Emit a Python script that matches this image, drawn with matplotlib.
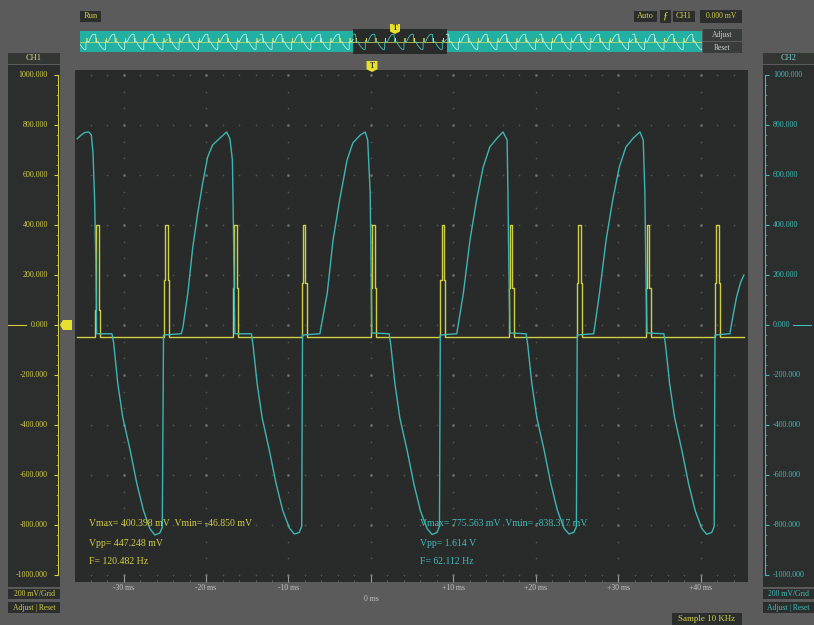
import numpy as np
import matplotlib.pyplot as plt
from matplotlib.patches import Rectangle, Polygon
from matplotlib.transforms import blended_transform_factory

# --- CH2 trace (time in ms, level in mV) ---
ch2_t = [
    -35.6, -35.2, -34.7, -34.2, -33.9, -33.7, -33.5, -33.35, -33.25,
    -31.4,
    -31.2, -30.7, -30.1, -29.2, -28.4, -27.6, -26.8, -26.2, -25.6, -25.3, -25.15,
    -23.0,
    -22.8, -22.2, -21.6, -21.0, -20.4, -19.8, -19.2, -18.3, -17.5, -17.1, -16.8, -16.7, -16.6, -16.5,
    -14.5,
    -14.3, -13.8, -13.2, -12.3, -11.5, -10.7, -9.9, -9.3, -8.7, -8.4, -8.3,
    -6.2,
    -5.3, -4.6, -3.8, -2.9, -2.2, -1.3, -0.7, -0.4, -0.1, 0.0, 0.1,
    2.2,
    2.4, 2.9, 3.5, 4.4, 5.2, 6.0, 6.8, 7.4, 8.0, 8.3, 8.4,
    10.4,
    11.2, 12.0, 12.8, 13.6, 14.4, 15.3, 16.0, 16.5, 16.6, 16.7, 16.85,
    18.8,
    19.0, 19.5, 20.1, 21.0, 21.8, 22.6, 23.4, 24.0, 24.6, 24.9, 25.0,
    27.0,
    27.7, 28.5, 29.3, 30.1, 30.9, 31.8, 32.6, 33.0, 33.2, 33.3, 33.45,
    35.5,
    35.7, 36.2, 36.8, 37.7, 38.5, 39.3, 40.1, 40.7, 41.3, 41.6, 41.7,
    43.5,
    43.9, 44.3, 44.8, 45.2,
]
ch2_mv = [
    745, 758, 770, 772, 760, 690, 500, 250, -35,
    -35,
    -70, -232, -368, -500, -632, -740, -815, -840, -832, -810, -40,
    -35,
    -10, 128, 312, 448, 568, 672, 720, 748, 772, 745, 660, 450, 200, -35,
    -35,
    -80, -235, -370, -505, -635, -742, -812, -836, -830, -805, -40,
    -35,
    128, 340, 500, 660, 728, 760, 772, 740, 528, 260, -32,
    -35,
    -80, -235, -372, -505, -636, -744, -814, -838, -830, -805, -40,
    -35,
    128, 340, 500, 632, 712, 748, 772, 740, 528, 260, -32,
    -35,
    -80, -235, -370, -503, -634, -742, -813, -836, -829, -806, -40,
    -35,
    128, 340, 500, 632, 712, 748, 772, 740, 528, 260, -32,
    -35,
    -80, -234, -370, -504, -635, -743, -814, -837, -830, -806, -40,
    -35,
    40, 110, 170, 200,
]

# --- CH1 pulses ---
ch1_start = [-33.45, -25.1, -16.7, -8.4, 0.0, 8.4, 16.7, 25.0, 33.3, 41.7]
ch1_peak = [400, 400, 400, 400, 400, 400, 400, 400, 400, 400]
ch1_step = [60, 180, 150, 170, 150, 180, 150, 170, 150, 170]
ch1_base = -47

volt_ticks = [-1000, -800, -600, -400, -200, 0, 200, 400, 600, 800, 1000]
time_ticks = [-30, -20, -10, 0, 10, 20, 30, 40]
time_labels = ['-30 ms', '-20 ms', '-10 ms', '0 ms', '+10 ms', '+20 ms', '+30 ms', '+40 ms']

ch1_stats = ['Vmax= 400.398 mV  Vmin= -46.850 mV', 'Vpp= 447.248 mV', 'F= 120.482 Hz']
ch2_stats = ['Vmax= 775.563 mV  Vmin= -838.317 mV', 'Vpp= 1.614 V', 'F= 62.112 Hz']

# --- colours / sizes ---
BG = '#5b5b5b'
PANEL = '#2c2e2d'
SCREEN = '#292b2a'
YEL = '#cfcf45'
CYAN = '#3fbdb8'
GRID = '#4f5451'
TXT = '#c4c4c4'
FONT = ['Liberation Serif', 'DejaVu Serif']
W, H = 814, 625
XL = (-35.88, 45.70)
YL = (-1028, 1020)

fig = plt.figure(figsize=(W / 100, H / 100), dpi=100)
fig.patch.set_facecolor(BG)


def rect(x0, y0, x1, y1):
    return [x0 / W, 1 - y1 / H, (x1 - x0) / W, (y1 - y0) / H]


def box(x0, y0, x1, y1, text='', color=YEL, fc=PANEL, size=6):
    fig.add_artist(Rectangle((x0 / W, 1 - y1 / H), (x1 - x0) / W, (y1 - y0) / H,
                             transform=fig.transFigure, facecolor=fc,
                             edgecolor='none', zorder=0))
    if text:
        fig.text((x0 + x1) / 2 / W, 1 - (y0 + y1) / 2 / H, text, color=color,
                 ha='center', va='center', fontsize=size, family=FONT)


def marker(xc, ytop, size=11):
    # yellow trigger flag
    h = size / 2
    pts = [(xc - h, ytop), (xc + h, ytop), (xc + h, ytop + size * 0.75),
           (xc, ytop + size), (xc - h, ytop + size * 0.75)]
    fig.add_artist(Polygon([(x / W, 1 - y / H) for x, y in pts], closed=True,
                           transform=fig.transFigure, facecolor='#e8e030',
                           edgecolor='none', zorder=10))
    fig.text(xc / W, 1 - (ytop + size * 0.42) / H, 'T', color='#3a3a20',
             ha='center', va='center', fontsize=5.5, family=FONT,
             fontweight='bold', zorder=11)


# side panels and labels
box(8, 53, 60, 64, 'CH1', color='#d6d690', fc='#343634')
box(763, 53, 814, 64, 'CH2', color='#70d0cc', fc='#343634')
box(8, 65, 60, 587)
box(763, 65, 814, 587)
box(8, 589, 60, 599, '200 mV/Grid', size=5.5)
box(8, 602, 60, 613, 'Adjust | Reset', size=5.5)
box(763, 589, 814, 599, '200 mV/Grid', color=CYAN, size=5.5)
box(763, 602, 814, 613, 'Adjust | Reset', color=CYAN, size=5.5)

# top bar
box(80, 11, 101, 22, 'Run', size=6)
box(634, 11, 657, 22, 'Auto', size=6)
box(660, 10, 671, 23, 'ƒ', color='#f0e030', size=8)
box(673, 11, 695, 22, 'CH1', size=6)
box(700, 10, 742, 23, '0.000 mV', size=5.5)
box(703, 29, 742, 41, 'Adjust', color='#d0d0d0', fc='#3a3c3b', size=5.5)
box(703, 42, 742, 53, 'Reset', color='#d0d0d0', fc='#3a3c3b', size=5.5)
box(672, 613, 742, 625, 'Sample 10 KHz', size=6.5)

# --- build CH1 trace from pulse list ---
ch1_t, ch1_v = [-35.6], [ch1_base]
for t0, pk, st in zip(ch1_start, ch1_peak, ch1_step):
    ch1_t += [t0, t0, t0 + 0.15, t0 + 0.15, t0 + 0.45, t0 + 0.45, t0 + 0.6, t0 + 0.6]
    ch1_v += [ch1_base, st, st, pk, pk, st, st, ch1_base]
ch1_t.append(45.2)
ch1_v.append(ch1_base)

# --- main screen ---
ax = fig.add_axes(rect(75, 70, 748, 582))
ax.set_facecolor(SCREEN)
ax.set_xlim(*XL)
ax.set_ylim(*YL)
for s in ax.spines.values():
    s.set_visible(False)

# dotted graticule
gx = np.arange(-34, 46, 2)
for v in volt_ticks:
    ax.scatter(gx, np.full(len(gx), v), s=1.6, color=GRID, lw=0, zorder=1)
gy = np.arange(-1000, 1001, 200 / 3)
for t in time_ticks:
    ax.scatter(np.full(len(gy), t), gy, s=1.6, color=GRID, lw=0, zorder=1)
gxx, gyy = np.meshgrid(time_ticks, volt_ticks)
ax.scatter(gxx.ravel(), gyy.ravel(), s=4, color='#666b67', lw=0, zorder=1)

ax.set_xticks(time_ticks)
ax.set_xticks(np.arange(-34, 46, 2), minor=True)
ax.set_yticks([])
ax.tick_params(axis='x', which='major', direction='in', length=4, width=0.8,
               color='#9a9a9a', labelbottom=False)
ax.tick_params(axis='x', which='minor', direction='in', length=1.5, width=0.6,
               color='#6a6a6a')

ax.plot(ch1_t, ch1_v, color=YEL, lw=1.0, zorder=3)
ax.plot(ch2_t, ch2_mv, color=CYAN, lw=1.0, alpha=0.95, zorder=4)

# measurement readouts
for i, s in enumerate(ch1_stats):
    fig.text(89 / W, 1 - (524 + 19 * i) / H, s, color=YEL, fontsize=7,
             family=FONT, va='center', ha='left')
for i, s in enumerate(ch2_stats):
    fig.text(420 / W, 1 - (524 + 19 * i) / H, s, color=CYAN, fontsize=7,
             family=FONT, va='center', ha='left')

# time labels under the screen
tr = blended_transform_factory(ax.transData, fig.transFigure)
for t, lab in zip(time_ticks, time_labels):
    y = 599 if t == 0 else 588
    ax.text(t, 1 - y / H, lab, transform=tr, color=TXT, fontsize=5.5,
            family=FONT, ha='center', va='center', clip_on=False)

# --- CH1 scale (left) ---
axl = fig.add_axes(rect(8, 70, 58, 582))
axl.set_facecolor('none')
axl.set_ylim(*YL)
axl.set_xlim(0, 1)
for k in ['top', 'left', 'bottom']:
    axl.spines[k].set_visible(False)
axl.spines['right'].set_color(YEL)
axl.spines['right'].set_bounds(-1000, 1000)
axl.yaxis.tick_right()
axl.set_yticks(volt_ticks)
axl.set_yticks(np.arange(-1000, 1001, 40), minor=True)
axl.set_xticks([])
axl.tick_params(axis='y', which='major', direction='in', length=3, color=YEL,
                labelright=False)
axl.tick_params(axis='y', which='minor', direction='in', length=1.3, color=YEL,
                width=0.5)
tl = blended_transform_factory(axl.transAxes, axl.transData)
for v in volt_ticks:
    axl.text(0.8, v, f'{v:.3f}', transform=tl, color=YEL, fontsize=5.8,
             family=FONT, ha='right', va='center')
axl.plot([0.0, 0.36], [0, 0], color=YEL, lw=0.8, transform=tl)

# --- CH2 scale (right) ---
axr = fig.add_axes(rect(765, 70, 812, 582))
axr.set_facecolor('none')
axr.set_ylim(*YL)
axr.set_xlim(0, 1)
for k in ['top', 'right', 'bottom']:
    axr.spines[k].set_visible(False)
axr.spines['left'].set_color(CYAN)
axr.spines['left'].set_bounds(-1000, 1000)
axr.set_yticks(volt_ticks)
axr.set_yticks(np.arange(-1000, 1001, 40), minor=True)
axr.set_xticks([])
axr.tick_params(axis='y', which='major', direction='in', length=3, color=CYAN,
                labelleft=False)
axr.tick_params(axis='y', which='minor', direction='in', length=1.3, color=CYAN,
                width=0.5)
trr = blended_transform_factory(axr.transAxes, axr.transData)
for v in volt_ticks:
    axr.text(0.17, v, f'{v:.3f}', transform=trr, color=CYAN, fontsize=5.8,
             family=FONT, ha='left', va='center')
axr.plot([0.6, 1.0], [0, 0], color=CYAN, lw=0.8, transform=trr)

# ground marker for CH1
gy0 = 325
fig.add_artist(Polygon([(p[0] / W, 1 - p[1] / H) for p in
                        [(60, gy0), (63, gy0 - 5), (72, gy0 - 5), (72, gy0 + 5), (63, gy0 + 5)]],
                       transform=fig.transFigure, facecolor='#e8e030',
                       edgecolor='none', zorder=10))

# --- overview strip ---
ov = fig.add_axes(rect(80, 31, 702, 52))
ov.set_facecolor('#22b0a2')
span = XL[1] - XL[0]
ov.set_xlim(XL[0] - 273 * span / 94, XL[1] + 255 * span / 94)
ov.set_ylim(-1100, 1100)
ov.set_xticks([])
ov.set_yticks([])
for s in ov.spines.values():
    s.set_visible(False)
ov.add_patch(Rectangle((XL[0], -1300), span, 2600, facecolor=SCREEN,
                       edgecolor='none', clip_on=False, zorder=1))
t2 = np.array(ch2_t)
t1 = np.array(ch1_t)
for k in range(-4, 5):
    off = k * (t2[-1] - t2[0])
    col = '#3fc8c0' if k == 0 else '#b8f2ea'
    ov.plot(t1 + off, ch1_v, color='#e0e050', lw=0.5, zorder=2)
    ov.plot(t2 + off, ch2_mv, color=col, lw=0.6, zorder=3)

marker(372, 61)
marker(395, 24, size=10)

fig.savefig('out.png', dpi=100, facecolor=fig.get_facecolor())
